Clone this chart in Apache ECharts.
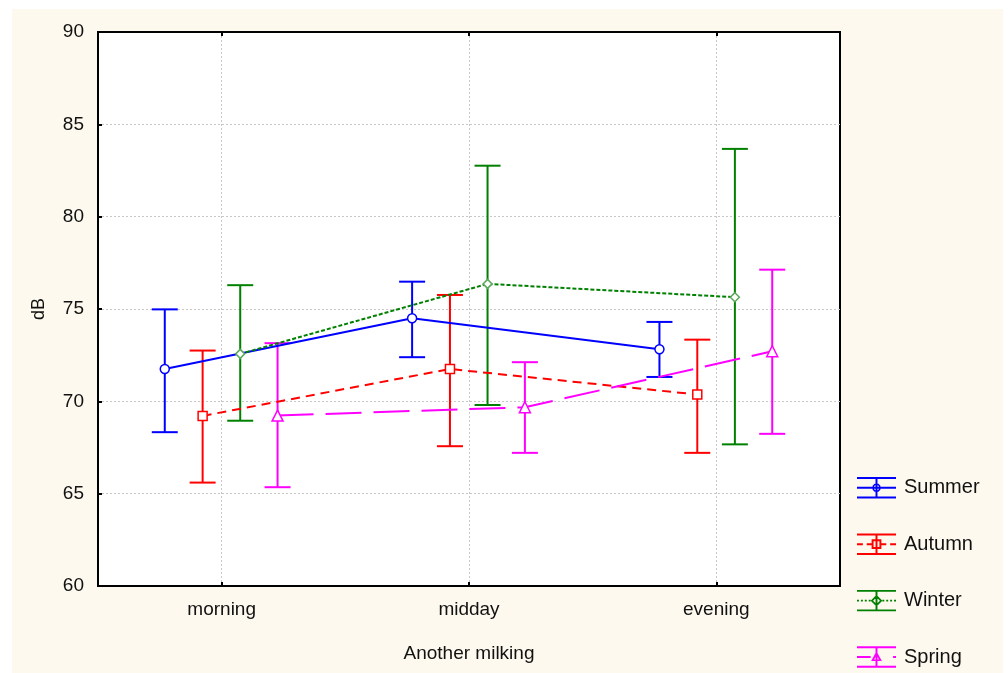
<!DOCTYPE html>
<html>
<head>
<meta charset="utf-8">
<script src="https://cdn.jsdelivr.net/npm/echarts@6/dist/echarts.min.js"></script>
<style>
  html, body { margin: 0; padding: 0; background: #ffffff; }
  #paper { position: absolute; left: 12px; top: 9px; width: 991px; height: 664px; background: #fdf9ee; }
  #chart { position: absolute; left: 0; top: 0; width: 1008px; height: 673px; }
</style>
</head>
<body>
<div id="paper"></div>
<div id="chart"></div>
<script>
  // categories and seasons
  const categories = ['morning', 'midday', 'evening'];
  const seasons = ['Summer', 'Autumn', 'Winter', 'Spring'];

  // means and error bar ends (dB)
  const summerMean = [71.75, 74.5, 72.82];
  const summerLow  = [68.33, 72.39, 71.32];
  const summerHigh = [74.98, 76.48, 74.30];

  const autumnMean = [69.21, 71.75, 70.37];
  const autumnLow  = [65.6, 67.57, 67.21];
  const autumnHigh = [72.75, 75.76, 73.34];

  const winterMean = [72.57, 76.36, 75.64];
  const winterLow  = [68.95, 69.8, 67.67];
  const winterHigh = [76.29, 82.76, 83.67];

  const springMean = [69.23, 69.68, 72.71];
  const springLow  = [65.35, 67.21, 68.24];
  const springHigh = [73.15, 72.12, 77.13];

  const yTicks = [60, 65, 70, 75, 80, 85, 90];

  // layout / style
  const shift = [-0.23, -0.077, 0.075, 0.226];
  const colors = ['#0000ff', '#ff0000', '#008000', '#ff00ff'];
  const dashes = ['solid', [9, 6], [4, 2], [36, 12]];
  const symbols = ['circle', 'rect', 'diamond', 'triangle'];
  const font = 'Liberation Sans, Arial, sans-serif';

  const means = [summerMean, autumnMean, winterMean, springMean];
  const lows = [summerLow, autumnLow, winterLow, springLow];
  const highs = [summerHigh, autumnHigh, winterHigh, springHigh];

  // legend icons: error bar with the line style and marker
  const frame = 'M0,0H40V2H0Z M0,20H40V22H0Z M19,0H21V22H19Z ';
  const icons = [
    frame + 'M0,10H40V12H0Z M16,9L18,7L22,7L24,9L24,13L22,15L18,15L16,13Z M17.5,9.6L17.5,12.4L18.6,13.5L21.4,13.5L22.5,12.4L22.5,9.6L21.4,8.5L18.6,8.5Z',
    frame + 'M0,10H6V12H0Z M10,10H16V12H10Z M24,10H30V12H24Z M34,10H40V12H34Z M15,6H25V16H15Z M17,8V14H23V8Z',
    frame + 'M0,10H2V12H0Z M4,10H6V12H4Z M8,10H10V12H8Z M12,10H14V12H12Z M26,10H28V12H26Z M30,10H32V12H30Z M34,10H36V12H34Z M38,10H40V12H38Z M20,5L26,11L20,17L14,11Z M20,7.5L16.5,11L20,14.5L23.5,11Z',
    frame + 'M0,10H14V12H0Z M37,10H40V12H37Z M20,5L25.5,15L14.5,15Z M20,9L17.5,13.5L22.5,13.5Z'
  ];

  const series = [];
  seasons.forEach(function (name, s) {
    const pts = means[s].map(function (v, i) { return [i + shift[s], v]; });
    const bars = means[s].map(function (v, i) { return [i + shift[s], lows[s][i], highs[s][i]]; });
    series.push({
      name: name,
      type: 'custom',
      data: bars,
      z: 3,
      renderItem: function (params, api) {
        const x = api.value(0);
        const lo = api.coord([x, api.value(1)]);
        const hi = api.coord([x, api.value(2)]);
        const w = 13;
        const st = { stroke: colors[s], lineWidth: 2 };
        return {
          type: 'group',
          children: [
            { type: 'line', shape: { x1: lo[0], y1: lo[1], x2: hi[0], y2: hi[1] }, style: st },
            { type: 'line', shape: { x1: lo[0] - w, y1: lo[1], x2: lo[0] + w, y2: lo[1] }, style: st },
            { type: 'line', shape: { x1: hi[0] - w, y1: hi[1], x2: hi[0] + w, y2: hi[1] }, style: st }
          ]
        };
      }
    });
    series.push({
      name: name,
      type: 'line',
      data: pts,
      z: 4,
      symbol: symbols[s],
      symbolSize: s === 3 ? 11 : 9,
      showAllSymbol: true,
      lineStyle: { color: colors[s], width: 2, type: dashes[s] },
      itemStyle: { color: '#ffffff', borderColor: s === 2 ? '#5aa85a' : colors[s], borderWidth: 1.5 },
      emphasis: { disabled: true }
    });
  });

  let myChart = echarts.init(document.getElementById('chart'));
  myChart.setOption({
    backgroundColor: 'transparent',
    animation: false,
    textStyle: { fontFamily: font },
    color: colors,
    grid: {
      left: 98, right: 168, top: 32, bottom: 87,
      show: true, backgroundColor: '#ffffff', borderColor: '#000000', borderWidth: 2
    },
    legend: {
      orient: 'vertical',
      left: 857,
      top: 477,
      padding: 0,
      itemWidth: 39,
      itemHeight: 22,
      itemGap: 35,
      selectedMode: false,
      textStyle: { fontSize: 20, color: '#111111', padding: [0, 0, 0, 3] },
      data: seasons.map(function (n, s) {
        return { name: n, icon: 'path://' + icons[s], itemStyle: { color: colors[s] } };
      })
    },
    xAxis: [{
      type: 'value',
      min: -0.5,
      max: 2.5,
      name: 'Another milking',
      nameLocation: 'middle',
      nameGap: 58,
      nameTextStyle: { fontSize: 19, color: '#111111' },
      axisLine: { show: true, onZero: false, lineStyle: { color: '#000000', width: 2 } },
      axisTick: { show: true, inside: true, length: 4, customValues: [0, 1, 2], lineStyle: { color: '#000000', width: 2 } },
      axisLabel: {
        customValues: [0, 1, 2],
        fontSize: 19, color: '#111111', margin: 14,
        formatter: function (v) { return categories[Math.round(v)]; }
      },
      splitLine: { show: true, lineStyle: { color: '#c8c8c8', type: [2, 2], width: 1 } }
    }, {
      type: 'value',
      position: 'top',
      min: -0.5,
      max: 2.5,
      axisLine: { show: false },
      axisTick: { show: true, inside: true, length: 4, customValues: [0, 1, 2], lineStyle: { color: '#000000', width: 2 } },
      axisLabel: { show: false, customValues: [0, 1, 2] },
      splitLine: { show: false }
    }],
    yAxis: {
      type: 'value',
      min: yTicks[0],
      max: yTicks[yTicks.length - 1],
      interval: 5,
      name: 'dB',
      nameLocation: 'middle',
      nameGap: 50,
      nameRotate: 90,
      nameTextStyle: { fontSize: 18, color: '#111111' },
      axisLine: { show: true, onZero: false, lineStyle: { color: '#000000', width: 2 } },
      axisTick: { show: true, inside: true, length: 4, lineStyle: { color: '#000000', width: 2 } },
      axisLabel: { fontSize: 19, color: '#111111', margin: 14 },
      splitLine: { show: true, showMinLine: false, showMaxLine: false, lineStyle: { color: '#c8c8c8', type: [2, 2], width: 1 } }
    },
    series: series
  });
</script>
</body>
</html>
